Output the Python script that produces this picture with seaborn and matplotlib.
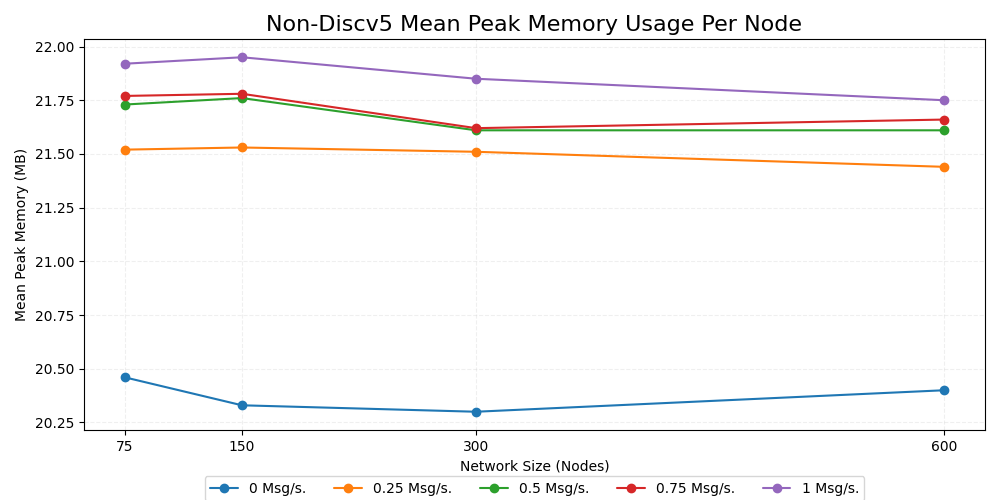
import pandas as pd
import matplotlib.pyplot as plt
import seaborn as sns

# Data
nodes = [75, 150, 300, 600]
rates = ['0 Msg/s.', '0.25 Msg/s.', '0.5 Msg/s.', '0.75 Msg/s.', '1 Msg/s.']
mem_0 = [20.46, 20.33, 20.30, 20.40]
mem_025 = [21.52, 21.53, 21.51, 21.44]
mem_05 = [21.73, 21.76, 21.61, 21.61]
mem_075 = [21.77, 21.78, 21.62, 21.66]
mem_1 = [21.92, 21.95, 21.85, 21.75]

series = [mem_0, mem_025, mem_05, mem_075, mem_1]
rows = []
for label, vals in zip(rates, series):
    for n, v in zip(nodes, vals):
        rows.append({'nodes': n, 'mem': v, 'rate': label})
df = pd.DataFrame(rows)

sns.set_style('ticks', {'axes.edgecolor': 'black', 'text.color': 'black',
                        'axes.labelcolor': 'black', 'xtick.color': 'black',
                        'ytick.color': 'black'})
plt.rcParams['font.family'] = ['DejaVu Sans']

fig, ax = plt.subplots(figsize=(10, 5), dpi=100)
palette = sns.color_palette('tab10', len(rates))
for label, color in zip(rates, palette):
    sub = df[df['rate'] == label]
    ax.plot(sub['nodes'], sub['mem'], marker='o', color=color,
            linewidth=1.5, markersize=6, label=label)

ax.set_xticks(nodes)
ax.set_xticklabels([str(n) for n in nodes])
ax.set_yticks([20.25, 20.5, 20.75, 21.0, 21.25, 21.5, 21.75, 22.0])
ax.yaxis.set_major_formatter(plt.FormatStrFormatter('%.2f'))
ax.set_ylim(20.215, 22.035)
ax.margins(x=0.05)
ax.grid(True, linestyle='--', alpha=0.3)
ax.set_title('Non-Discv5 Mean Peak Memory Usage Per Node', fontsize=16)
ax.set_xlabel('Network Size (Nodes)')
ax.set_ylabel('Mean Peak Memory (MB)')
ax.legend(loc='upper center', bbox_to_anchor=(0.5, -0.1), ncol=5)

plt.subplots_adjust(left=0.084, right=0.985, top=0.922, bottom=0.14)
plt.savefig('out.png', dpi=100)
